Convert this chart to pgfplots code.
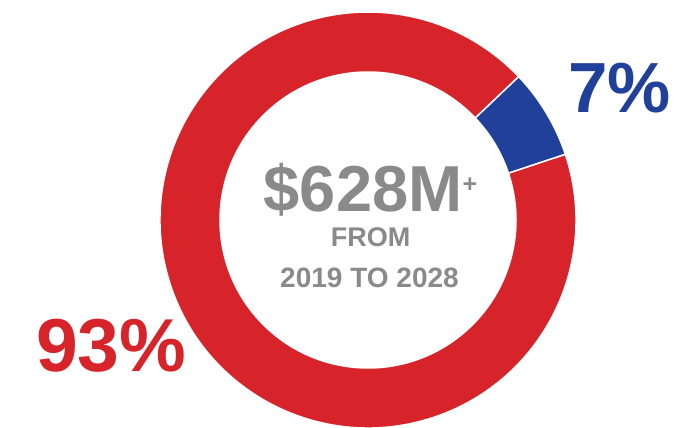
\documentclass[border=0pt]{standalone}
\usepackage{pgfplots}
\pgfplotsset{compat=1.18}
\usepackage{fontspec}
\setmainfont{Liberation Sans}
\definecolor{dred}{HTML}{D7232A}
\definecolor{dblue}{HTML}{21409A}
\definecolor{tgray}{HTML}{8A8A8A}
% data (percent)
\def\blueval{7}
\def\redval{93}
\def\startang{43.6}
\pgfmathsetmacro\midang{\startang-3.6*\blueval}
\pgfmathsetmacro\endang{\midang-3.6*\redval}
\def\Ro{208bp}
\def\Ri{148bp}
\begin{document}
\begin{tikzpicture}
\begin{axis}[width=693bp,height=428bp,scale only axis,
  xmin=0,xmax=693,ymin=0,ymax=428,hide axis,clip=false]
\fill[dblue,draw=white,line width=1.5bp] (axis cs:368,208) ++(\startang:\Ro)
  arc[start angle=\startang,end angle=\midang,radius=\Ro]
  -- ([shift={(\midang:\Ri)}]axis cs:368,208)
  arc[start angle=\midang,end angle=\startang,radius=\Ri] -- cycle;
\fill[dred,draw=white,line width=1.5bp] (axis cs:368,208) ++(\midang:\Ro)
  arc[start angle=\midang,end angle=\endang,radius=\Ro]
  -- ([shift={(\endang:\Ri)}]axis cs:368,208)
  arc[start angle=\endang,end angle=\midang,radius=\Ri] -- cycle;
\node[anchor=base west,inner sep=0,text=dblue,font=\fontsize{71bp}{71bp}\selectfont\bfseries] at (axis cs:568,315) {\blueval\%};
\node[anchor=base west,inner sep=0,text=dred,font=\fontsize{75bp}{75bp}\selectfont\bfseries] at (axis cs:36,56) {\redval\%};
\node[anchor=base,inner sep=0,text=tgray,font=\fontsize{65bp}{65bp}\selectfont\bfseries] at (axis cs:370.5,216) {\$628M\raisebox{19bp}{\fontsize{25bp}{25bp}\selectfont +}};
\node[anchor=base,inner sep=0,text=tgray,font=\fontsize{27bp}{27bp}\selectfont\bfseries] at (axis cs:370.5,181) {FROM};
\node[anchor=base,inner sep=0,text=tgray,font=\fontsize{28bp}{28bp}\selectfont\bfseries] at (axis cs:369.5,140) {2019 TO 2028};
\end{axis}
\pgfresetboundingbox
\path[use as bounding box] (0,0) rectangle (693bp,428bp);
\end{tikzpicture}
\end{document}
